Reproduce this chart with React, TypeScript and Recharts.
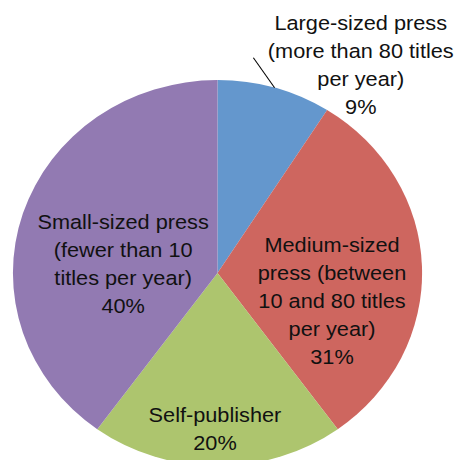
import { PieChart, Pie, Cell } from 'recharts'

const categories = [
  'Large-sized press',
  'Medium-sized press',
  'Self-publisher',
  'Small-sized press',
]
const shares = [9, 31, 20, 40]
const labelLines = [
  ['Large-sized press', '(more than 80 titles', 'per year)'],
  ['Medium-sized', 'press (between', '10 and 80 titles', 'per year)'],
  ['Self-publisher'],
  ['Small-sized press', '(fewer than 10', 'titles per year)'],
]

const COLORS = ['#6497CD', '#CE665F', '#ADC56E', '#927AB2']

// where each label sits: fraction of the radius along the mid angle, plus a nudge
const PLACE = [
  { k: 1.08, dx: 77, dy: -8.5 },
  { k: 0.56, dx: 0, dy: 31 },
  { k: 0.806, dx: -2.4, dy: 0 },
  { k: 0.485, dx: 0, dy: 19 },
]

const data = categories.map((name, i) => ({ name, value: shares[i] }))

const RAD = Math.PI / 180
const LINE_H = 28

function renderLabel(props: any) {
  const { cx, cy, midAngle, outerRadius, index, value } = props
  const p = PLACE[index]
  const cos = Math.cos(-midAngle * RAD)
  const sin = Math.sin(-midAngle * RAD)
  const x = cx + outerRadius * p.k * cos + p.dx
  const y = cy + outerRadius * p.k * sin + p.dy
  const lines = [...labelLines[index], `${value}%`]
  const top = y - ((lines.length - 1) / 2) * LINE_H
  const ex = cx + outerRadius * cos
  const ey = cy + outerRadius * sin
  return (
    <g key={`lbl-${index}`}>
      {index === 0 && (
        <line x1={ex} y1={ey} x2={ex - 20} y2={ey - 30} stroke="#000" strokeWidth={1} />
      )}
      <text
        x={x}
        y={top}
        textAnchor="middle"
        dominantBaseline="central"
        fill="#111"
        fontSize={20.5}
        fontFamily="'Liberation Sans', Arial, sans-serif"
      >
        {lines.map((l, i) => (
          <tspan key={i} x={x} y={top + i * LINE_H}>
            {l}
          </tspan>
        ))}
      </text>
    </g>
  )
}

export default function App() {
  return (
    <div
      style={{
        position: 'absolute',
        left: 0,
        top: 0,
        width: 466,
        height: 460,
        overflow: 'hidden',
        background: '#fff',
      }}
    >
      <div style={{ transform: 'scaleX(1.06)', transformOrigin: '0 0', width: 440, height: 460 }}>
        <PieChart width={440} height={460} margin={{ top: 0, right: 0, bottom: 0, left: 0 }}>
          <Pie
            data={data}
            dataKey="value"
            nameKey="name"
            cx={205.2}
            cy={273}
            outerRadius={193}
            startAngle={90}
            endAngle={-270}
            stroke="none"
            label={renderLabel}
            labelLine={false}
            isAnimationActive={false}
          >
            {data.map((d, i) => (
              <Cell key={d.name} fill={COLORS[i % COLORS.length]} />
            ))}
          </Pie>
        </PieChart>
      </div>
    </div>
  )
}
